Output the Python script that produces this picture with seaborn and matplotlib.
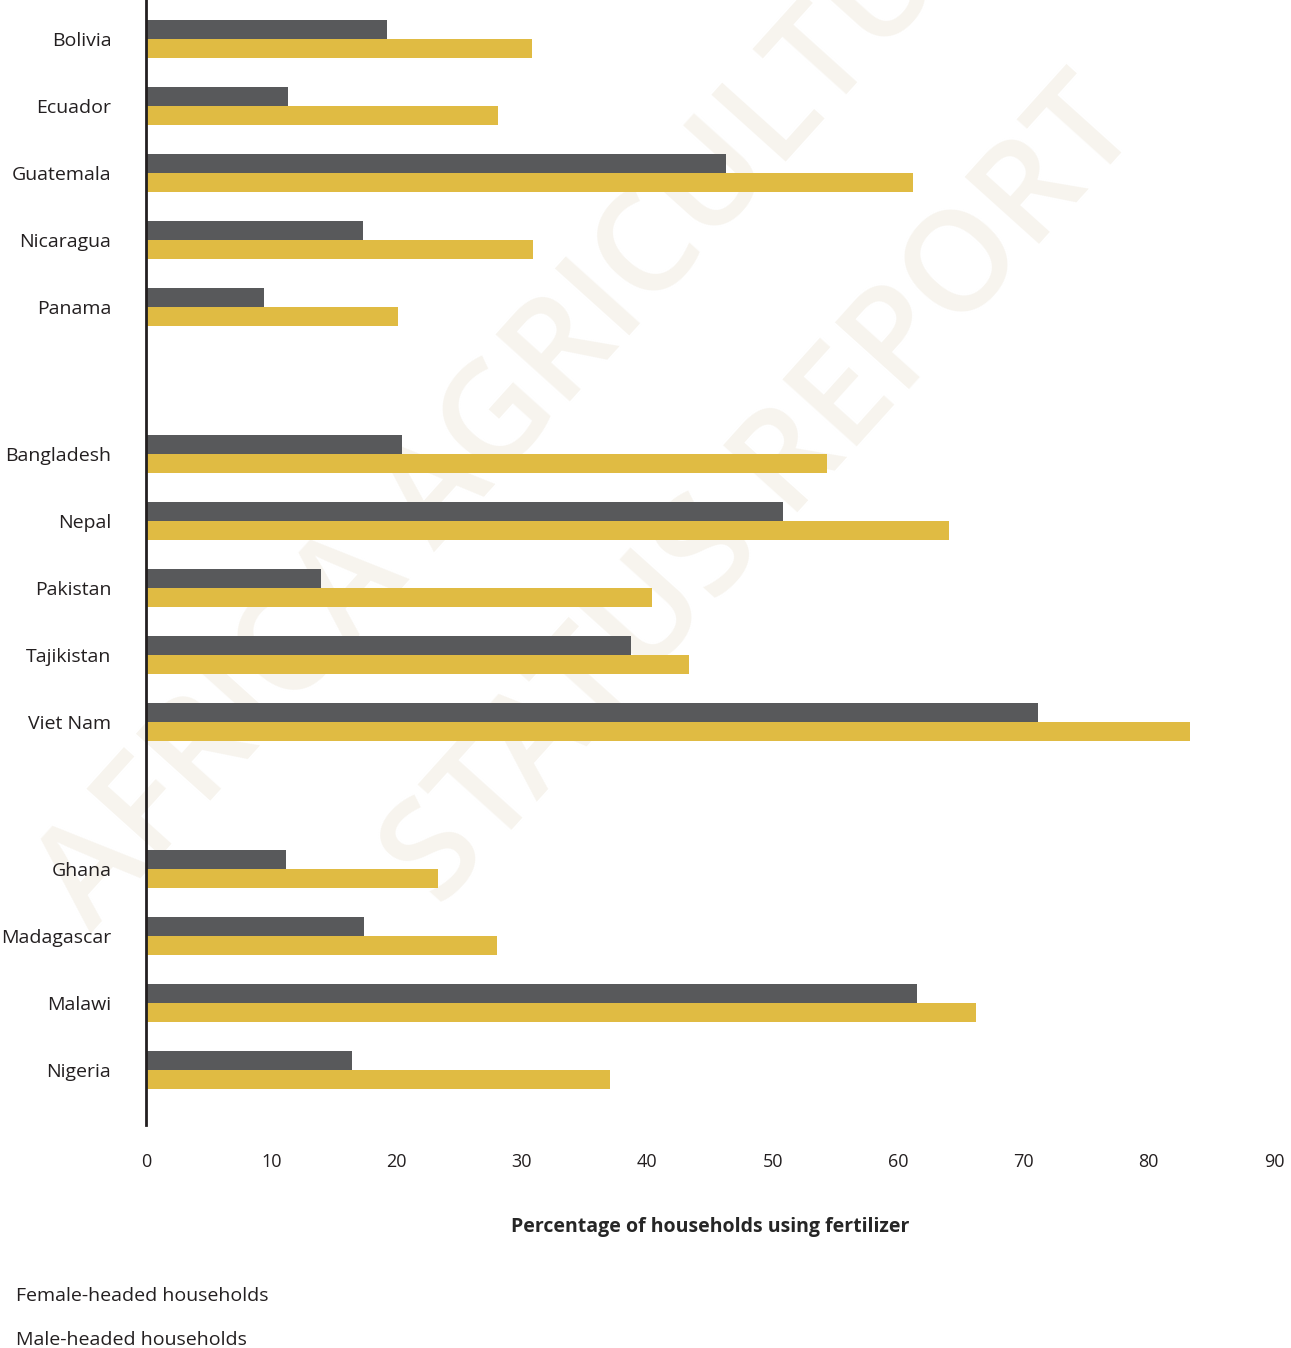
import numpy as np
import pandas as pd
import matplotlib as mpl
import matplotlib.pyplot as plt
import seaborn as sns

# regional groups (top to bottom)
group_latam = ["Bolivia", "Ecuador", "Guatemala", "Nicaragua", "Panama"]
group_asia = ["Bangladesh", "Nepal", "Pakistan", "Tajikistan", "Viet Nam"]
group_africa = ["Ghana", "Madagascar", "Malawi", "Nigeria"]

female_pct = [19.2, 11.3, 46.3, 17.3, 9.4,
              20.4, 50.8, 14.0, 38.7, 71.2,
              11.2, 17.4, 61.5, 16.4]
male_pct = [30.8, 28.1, 61.2, 30.9, 20.1,
            54.3, 64.1, 40.4, 43.3, 83.3,
            23.3, 28.0, 66.2, 37.0]

series_names = ["Female-headed households", "Male-headed households"]
palette = ["#58595b", "#e0bb43"]
x_ticks = [0, 10, 20, 30, 40, 50, 60, 70, 80, 90]

# row positions: one slot per country, wider gap between regions
GAP = 1.2
countries, rows = [], []
pos = 0.0
for grp in [group_latam, group_asia, group_africa]:
    for c in grp:
        countries.append(c)
        rows.append(pos)
        pos += 1
    pos += GAP

df = pd.DataFrame({
    "country": countries * 2,
    "row": rows * 2,
    "pct": female_pct + male_pct,
    "series": [series_names[0]] * len(countries) + [series_names[1]] * len(countries),
})

sns.set_theme(style="white")
mpl.rcParams.update({
    "font.family": ["Open Sans", "DejaVu Sans"],
    "text.color": "#231f20",
    "xtick.color": "#231f20",
    "ytick.color": "#231f20",
})

fig = plt.figure(figsize=(12.91, 13.48), dpi=100)
ax = fig.add_axes([0.1131, 0.1654, 0.8737, 0.8346])
ax.patch.set_alpha(0)

# faint watermark, kept behind bars and labels
wm = dict(color="#f7f4ee", fontsize=100, fontweight="semibold", rotation=48,
          rotation_mode="anchor", ha="center", va="center", zorder=0,
          transform=fig.transFigure, clip_on=False,
          family=["Open Sans", "DejaVu Sans"])
ax.text(548 / 1291, 1 - 372 / 1348, "AFRICA AGRICULTURE", **wm)
ax.text(765 / 1291, 1 - 495 / 1348, "STATUS REPORT", **wm)

sns.barplot(
    data=df, x="pct", y="row", hue="series", hue_order=series_names,
    palette=palette, orient="h", native_scale=True, width=0.57,
    saturation=1, errorbar=None, legend=False, linewidth=0, ax=ax,
)

ax.set_xlim(0, 90)
ax.set_ylim(rows[-1] + 0.82, -0.58)
ax.set_xticks(x_ticks)
ax.set_xticklabels([str(t) for t in x_ticks], fontsize=13)
ax.set_yticks(rows)
ax.set_yticklabels(countries, fontsize=14, va="center_baseline")
ax.tick_params(axis="both", length=0)
ax.tick_params(axis="y", pad=25)
ax.tick_params(axis="x", pad=20)
ax.set_ylabel("")
ax.set_xlabel("Percentage of households using fertilizer",
              fontsize=14, fontweight="bold", labelpad=33)

for side in ["top", "right", "bottom"]:
    ax.spines[side].set_visible(False)
ax.spines["left"].set_color("#231f20")
ax.spines["left"].set_linewidth(2)

fig.text(16 / 1291, 1 - 1296 / 1348, series_names[0], fontsize=14,
         ha="left", va="center")
fig.text(16 / 1291, 1 - 1340 / 1348, series_names[1], fontsize=14,
         ha="left", va="center")

fig.savefig("out.png", dpi=100, facecolor="white")
